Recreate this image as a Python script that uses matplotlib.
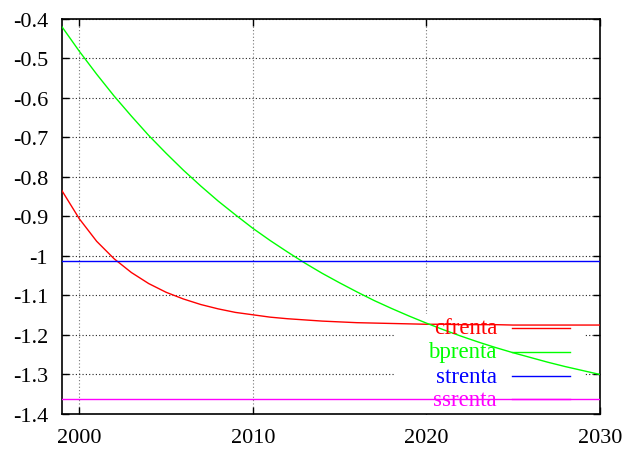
import matplotlib
matplotlib.use("Agg")
import matplotlib.pyplot as plt
from matplotlib.patches import Rectangle

plt.rcParams['font.family'] = ['Liberation Serif', 'DejaVu Serif']

# data
years = list(range(1999, 2031))
cfrenta = [-0.835, -0.906, -0.963, -1.007, -1.042, -1.070, -1.092, -1.109,
           -1.123, -1.134, -1.143, -1.149, -1.155, -1.159, -1.162, -1.165,
           -1.167, -1.169, -1.170, -1.171, -1.172, -1.173, -1.173, -1.174,
           -1.174, -1.174, -1.175, -1.175, -1.175, -1.175, -1.175, -1.175]
bprenta = [-0.420, -0.482, -0.540, -0.595, -0.646, -0.695, -0.740, -0.783,
           -0.823, -0.861, -0.896, -0.930, -0.961, -0.990, -1.018, -1.044,
           -1.068, -1.091, -1.113, -1.133, -1.152, -1.170, -1.187, -1.203,
           -1.218, -1.232, -1.245, -1.257, -1.269, -1.280, -1.290, -1.300]
strenta = [-1.012] * len(years)
ssrenta = [-1.362] * len(years)

labels = ['cfrenta', 'bprenta', 'strenta', 'ssrenta']
colors = ['#ff0000', '#00ff00', '#0000ff', '#ff00ff']
series = [cfrenta, bprenta, strenta, ssrenta]

fig = plt.figure(figsize=(6.26, 4.52), dpi=100)
ax = fig.add_axes([0.099, 0.082, 0.859, 0.874])

for vals, c in zip(series, colors):
    ax.plot(years, vals, color=c, lw=1.0, zorder=3)

ax.set_xlim(1999, 2030)
ax.set_ylim(-1.4, -0.4)
ax.set_xticks([2000, 2010, 2020, 2030])
ax.set_yticks([-1.4, -1.3, -1.2, -1.1, -1.0, -0.9, -0.8, -0.7, -0.6, -0.5, -0.4])
ax.set_yticklabels(['-1.4', '-1.3', '-1.2', '-1.1', '-1', '-0.9', '-0.8',
                    '-0.7', '-0.6', '-0.5', '-0.4'])
ax.tick_params(direction='in', length=5, labelsize=16, top=True, right=True,
               width=1.0, pad=10)
ax.set_axisbelow(True)
ax.grid(True, axis='y', color='#222222', linestyle=(0, (1, 2)), linewidth=0.8)
ax.grid(True, axis='x', color='#777777', linestyle=(0, (1, 2)), linewidth=0.8)
for s in ax.spines.values():
    s.set_linewidth(1.2)

# key area blanks the grid, like gnuplot
ax.add_patch(Rectangle((0.619, 0.0), 0.353, 0.253, transform=ax.transAxes,
                       facecolor='white', edgecolor='none', zorder=1))

rows = [0.218, 0.157, 0.095, 0.037]
for lab, c, y in zip(labels, colors, rows):
    ax.text(0.809, y, lab, color=c, fontsize=16.5, ha='right', va='center',
            transform=ax.transAxes, zorder=4)
    ax.plot([0.836, 0.944], [y, y], color=c, lw=1.0, transform=ax.transAxes,
            zorder=5)

fig.savefig("out.png", dpi=100)
